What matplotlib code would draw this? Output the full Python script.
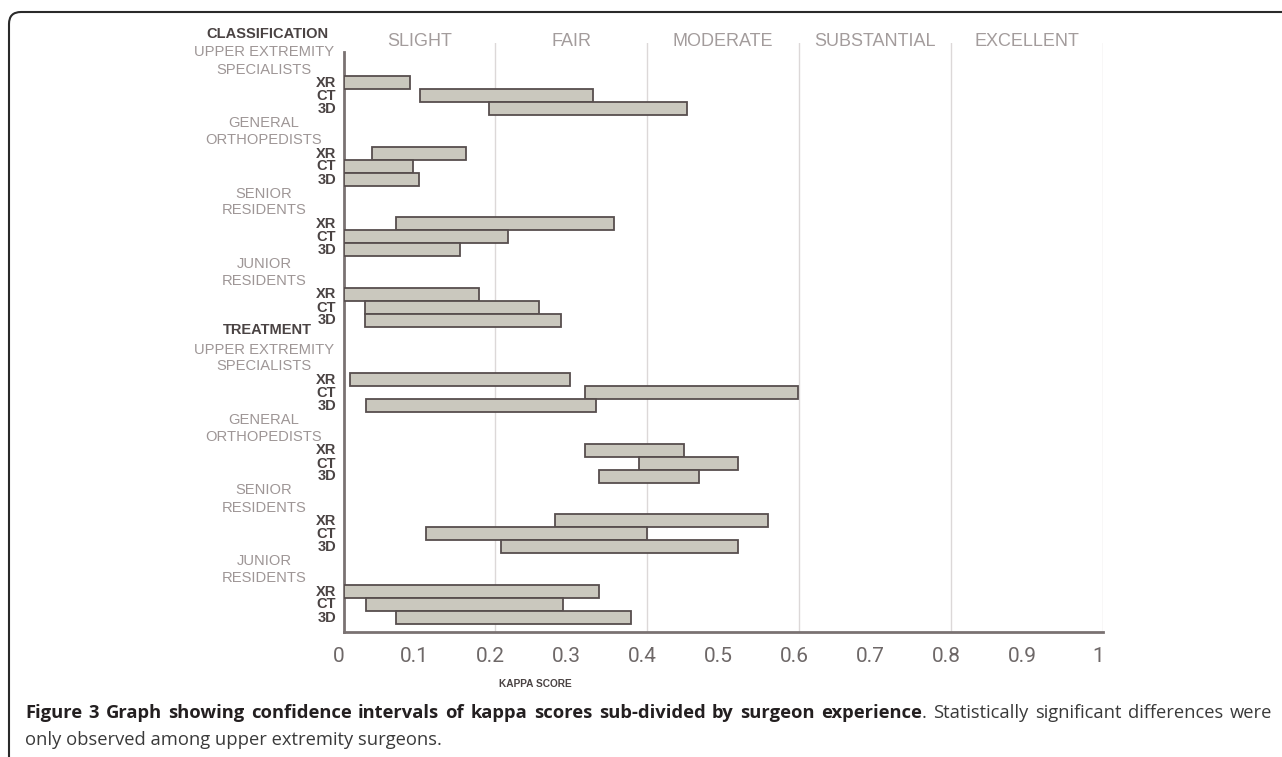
import matplotlib
matplotlib.use("Agg")
import matplotlib.pyplot as plt
from matplotlib.path import Path
from matplotlib.patches import PathPatch
from matplotlib.transforms import IdentityTransform, blended_transform_factory, offset_copy
import numpy as np

# ---------------- data ----------------
sections = ["CLASSIFICATION", "TREATMENT"]
groups = [["UPPER EXTREMITY", "SPECIALISTS"],
          ["GENERAL", "ORTHOPEDISTS"],
          ["SENIOR", "RESIDENTS"],
          ["JUNIOR", "RESIDENTS"]]
modalities = ["XR", "CT", "3D"]

# lower / upper confidence limits, order: section -> group -> modality
class_low = [[0.000, 0.101, 0.192],
             [0.038, 0.000, 0.000],
             [0.069, 0.000, 0.000],
             [0.000, 0.028, 0.028]]
class_high = [[0.088, 0.329, 0.452],
              [0.161, 0.091, 0.100],
              [0.356, 0.217, 0.154],
              [0.179, 0.258, 0.287]]
treat_low = [[0.009, 0.318, 0.030],
             [0.318, 0.389, 0.337],
             [0.278, 0.108, 0.208],
             [0.000, 0.030, 0.069]]
treat_high = [[0.298, 0.599, 0.332],
              [0.448, 0.519, 0.468],
              [0.559, 0.399, 0.519],
              [0.336, 0.289, 0.378]]

agreement = ["SLIGHT", "FAIR", "MODERATE", "SUBSTANTIAL", "EXCELLENT"]
agreement_bounds = [0.0, 0.2, 0.4, 0.6, 0.8, 1.0]
xticks = [0, 0.1, 0.2, 0.3, 0.4, 0.5, 0.6, 0.7, 0.8, 0.9, 1.0]
xticklabels = ["0", "0.1", "0.2", "0.3", "0.4", "0.5", "0.6", "0.7", "0.8", "0.9", "1"]

caption_bold = ("Figure 3 Graph showing confidence intervals of kappa scores "
                "sub-divided by surgeon experience")
caption_rest1 = "Statistically significant differences were"
caption_rest2 = "only observed among upper extremity surgeons."

# ---------------- styling / layout ----------------
W, H = 1282, 757
SANS = ["Liberation Sans", "DejaVu Sans"]
TICKFONT = ["Roboto", "Liberation Sans", "DejaVu Sans"]
BAR_FACE = "#cac8be"
BAR_EDGE = "#574e4e"
LABEL_GRAY = "#9e9696"
DARK = "#4a4343"
GRID = "#dcd8d8"

SECTION_START = [82.5, 379.5]   # layout (pixel-like units from top)
GROUP_PITCH = 70.5
ROW_PITCH = 13.0

fig = plt.figure(figsize=(W / 100, H / 100), dpi=100)
ax = fig.add_axes([343.5 / W, 1 - 632 / H, (1103 - 343.5) / W, (632 - 43) / H])
ax.set_xlim(0, 1)
ax.set_ylim(632, 43)

lows = [class_low, treat_low]
highs = [class_high, treat_high]

xlab_tr = blended_transform_factory(fig.transFigure, ax.transData)
for s, sec in enumerate(sections):
    start = SECTION_START[s]
    ax.text(267 / W, start - 49, sec, transform=xlab_tr, ha="center", va="center",
            fontsize=10.5, fontweight="bold", color=DARK, family=SANS, clip_on=False)
    for g, glab in enumerate(groups):
        y0 = start + g * GROUP_PITCH
        ax.text(264 / W, y0 - 30, glab[0], transform=xlab_tr, ha="center", va="center",
                fontsize=10.6, color=LABEL_GRAY, family=SANS, clip_on=False)
        ax.text(264 / W, y0 - 13, glab[1], transform=xlab_tr, ha="center", va="center",
                fontsize=10.6, color=LABEL_GRAY, family=SANS, clip_on=False)
        ys = y0 + np.arange(len(modalities)) * ROW_PITCH
        lo = np.array(lows[s][g])
        hi = np.array(highs[s][g])
        ax.barh(ys, hi - lo, left=lo, height=ROW_PITCH, color=BAR_FACE,
                edgecolor=BAR_EDGE, linewidth=1.3, zorder=3)
        for m, mod in enumerate(modalities):
            ax.text(336 / W, ys[m] + 0.5, mod, transform=xlab_tr, ha="right", va="center",
                    fontsize=10.5, fontweight="bold", color=DARK, family=SANS,
                    clip_on=False)

# vertical agreement boundaries
for b in agreement_bounds[1:]:
    ax.axvline(b, color=GRID, lw=1.0, zorder=1)

# agreement labels on top
for i, lab in enumerate(agreement):
    xc = (agreement_bounds[i] + agreement_bounds[i + 1]) / 2
    ax.text(xc, 41.5, lab, ha="center", va="center", fontsize=13,
            color="#a39c9c", family=SANS, clip_on=False)

# spines
for side in ["top", "right"]:
    ax.spines[side].set_visible(False)
ax.spines["left"].set_color("#7a7272")
ax.spines["left"].set_linewidth(2)
ax.spines["left"].set_bounds(632, 52)
ax.spines["bottom"].set_color("#7a7272")
ax.spines["bottom"].set_linewidth(2)

ax.set_yticks([])
ax.set_xticks(xticks)
ax.set_xticklabels(xticklabels, fontsize=15, color="#6e6868", family=TICKFONT,
                   fontweight="normal")
ax.tick_params(axis="x", length=0, pad=11)
for lab in ax.get_xticklabels():
    lab.set_transform(offset_copy(lab.get_transform(), fig=fig, x=-5, y=0, units="dots"))

fig.text(535 / W, 1 - 684 / H, "KAPPA SCORE", ha="center", va="center",
         fontsize=7.3, fontweight="bold", color=DARK, family=SANS)

# figure frame (rounded top-left corner)
frame = Path([(9, -5), (9, H - 24), (9, H - 12), (21, H - 12), (W + 5, H - 12)],
             [Path.MOVETO, Path.LINETO, Path.CURVE3, Path.CURVE3, Path.LINETO])
fig.patches.append(PathPatch(frame, transform=IdentityTransform(), fill=False,
                             edgecolor="#2a2a2a", lw=1.5))

# caption (first line justified between CAP_X0 and CAP_X1)
CAP_FONT = ["Open Sans", "DejaVu Sans"]
BOLD_SIZE, REG_SIZE = 13.2, 13.2
CAP_X0, CAP_X1 = 25, 1272
y1 = 1 - 718 / H
units = []
bwords = caption_bold.split()
for i, w in enumerate(bwords):
    parts = [fig.text(0, y1, w, ha="left", va="baseline", fontsize=BOLD_SIZE,
                      fontweight="bold", color="#231f20", family=CAP_FONT)]
    if i == len(bwords) - 1:
        parts.append(fig.text(0, y1, ".", ha="left", va="baseline", fontsize=REG_SIZE,
                              color="#3a3a3a", family=CAP_FONT))
    units.append(parts)
for w in caption_rest1.split():
    units.append([fig.text(0, y1, w, ha="left", va="baseline", fontsize=REG_SIZE,
                           color="#3a3a3a", family=CAP_FONT)])
fig.canvas.draw()
r = fig.canvas.get_renderer()
widths = [[p.get_window_extent(r).width for p in u] for u in units]
total = sum(sum(w) for w in widths)
gap = (CAP_X1 - CAP_X0 - total) / (len(units) - 1)
x = float(CAP_X0)
for u, ws in zip(units, widths):
    for p, wd in zip(u, ws):
        p.set_x(x / W)
        x += wd
    x += gap

fig.text(CAP_X0 / W, 1 - 745 / H, caption_rest2, ha="left", va="baseline",
         fontsize=REG_SIZE, color="#3a3a3a", family=CAP_FONT)

fig.savefig("out.png", dpi=100, facecolor="white")
